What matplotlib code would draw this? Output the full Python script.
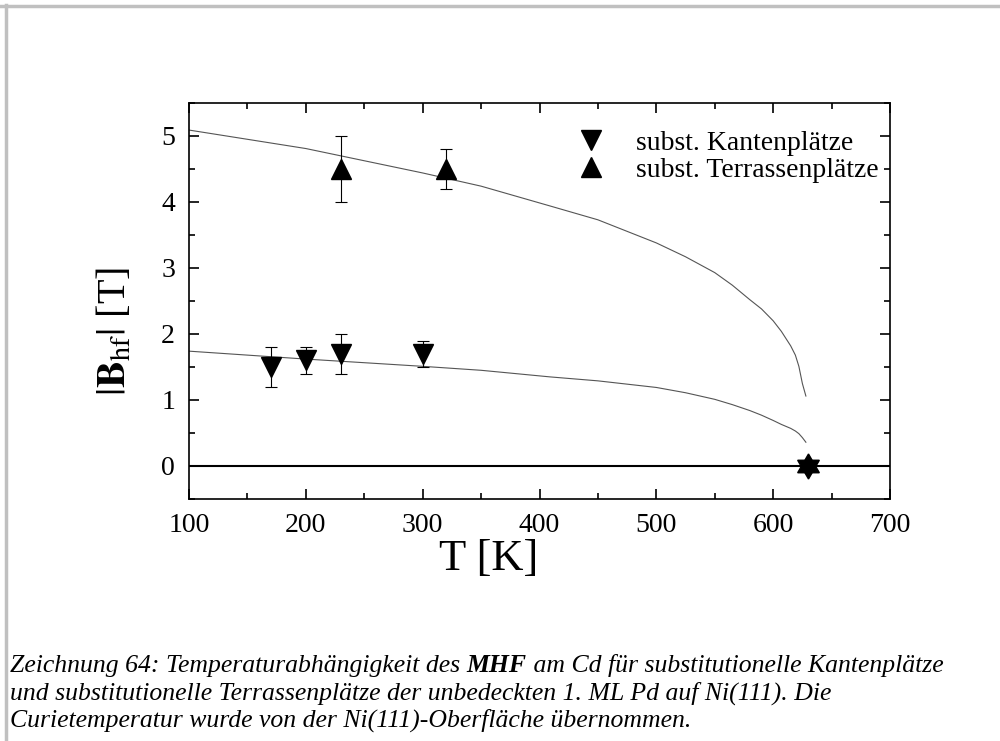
import matplotlib.pyplot as plt
from matplotlib.lines import Line2D
from matplotlib.ticker import MultipleLocator

plt.rcParams['font.family'] = 'Liberation Serif'
plt.rcParams['mathtext.fontset'] = 'stix'

# measured hyperfine fields
kanten_T = [170, 200, 230, 300]
kanten_B = [1.5, 1.6, 1.7, 1.7]
kanten_err = [0.3, 0.2, 0.3, 0.2]

terr_T = [230, 320]
terr_B = [4.5, 4.5]
terr_err = [0.5, 0.3]

# Curie point (Ni(111) surface)
curie_T = [630]
curie_B = [0.0]

# fitted curves
fit_T = [100, 200, 300, 350, 409, 450, 500, 525, 550, 565, 580, 590, 600, 607, 615, 619,
         622, 625, 628]
fit_terr = [5.09, 4.81, 4.44, 4.24, 3.94, 3.73, 3.38, 3.17, 2.93, 2.74, 2.52, 2.38, 2.20,
            2.04, 1.82, 1.68, 1.51, 1.25, 1.06]
fit_kant = [1.74, 1.62, 1.51, 1.45, 1.35, 1.29, 1.19, 1.11, 1.01, 0.93, 0.84, 0.77, 0.69,
            0.63, 0.57, 0.53, 0.49, 0.43, 0.36]

fig = plt.figure(figsize=(10, 7.41), dpi=100)
ax = fig.add_axes([0.189, 0.3266, 0.701, 0.5344])

ax.axhline(0, color='black', lw=1.5, zorder=1)
ax.plot(fit_T, fit_terr, color='#555555', lw=0.8, zorder=2)
ax.plot(fit_T, fit_kant, color='#555555', lw=0.8, zorder=2)

ax.errorbar(kanten_T, kanten_B, yerr=kanten_err, fmt='v', color='black',
            ms=15, ecolor='black', elinewidth=0.8, capsize=4.5, capthick=0.8, zorder=3)
ax.errorbar(terr_T, terr_B, yerr=terr_err, fmt='^', color='black',
            ms=15, ecolor='black', elinewidth=0.8, capsize=4.5, capthick=0.8, zorder=3)
# both site types meet at the Curie point -> drawn as a hexagram
ax.plot(curie_T, curie_B, marker=(3, 0, 0), ls='none', color='black', ms=18, zorder=4)
ax.plot(curie_T, curie_B, marker=(3, 0, 180), ls='none', color='black', ms=18, zorder=4)

ax.set_xlim(100, 700)
ax.set_ylim(-0.5, 5.5)
ax.xaxis.set_major_locator(MultipleLocator(100))
ax.xaxis.set_minor_locator(MultipleLocator(50))
ax.yaxis.set_major_locator(MultipleLocator(1))
ax.yaxis.set_minor_locator(MultipleLocator(0.5))
ax.tick_params(which='both', direction='in', top=True, right=True, width=1.2)
ax.tick_params(which='major', length=7, labelsize=20, pad=10)
ax.tick_params(which='minor', length=4.5)
for s in ax.spines.values():
    s.set_linewidth(1.2)

ax.set_xlabel('T [K]', fontsize=32)
ax.xaxis.set_label_coords(0.427, -0.1)
ax.set_ylabel(r'$|\mathbf{B}_{\mathrm{hf}}|$ [T]', fontsize=29)
ax.yaxis.set_label_coords(-0.078, 0.424)

handles = [
    Line2D([], [], marker='v', color='black', ls='none', ms=15),
    Line2D([], [], marker='^', color='black', ls='none', ms=15),
]
ax.legend(handles, ['subst. Kantenplätze', 'subst. Terrassenplätze'],
          loc='upper left', bbox_to_anchor=(0.55, 0.93), frameon=False,
          fontsize=20, handlelength=1.2, handletextpad=1.0, labelspacing=0.05,
          borderpad=0, borderaxespad=0)

# grey frame of the page
fig.add_artist(Line2D([0.0, 1.0], [1 - 6 / 741, 1 - 6 / 741], color='#c0c0c0', lw=2.5))
fig.add_artist(Line2D([6 / 1000, 6 / 1000], [0.0, 1 - 5 / 741], color='#c0c0c0', lw=2.5))

# caption, with bold MHF
cap_size = 18.5
y1 = 1 - 672 / 741
t1 = fig.text(0.010, y1, 'Zeichnung 64: Temperaturabhängigkeit des ', fontsize=cap_size,
              style='italic', va='baseline')
fig.canvas.draw()
r = fig.canvas.get_renderer()
bb = t1.get_window_extent(r)
t2 = fig.text(bb.x1 / 1000, y1, 'MHF', fontsize=cap_size, style='italic',
              weight='bold', va='baseline')
bb2 = t2.get_window_extent(r)
fig.text(bb2.x1 / 1000, y1, ' am Cd für substitutionelle Kantenplätze', fontsize=cap_size,
         style='italic', va='baseline')
fig.text(0.010, 1 - 700 / 741,
         'und substitutionelle Terrassenplätze der unbedeckten 1. ML Pd auf Ni(111). Die',
         fontsize=cap_size, style='italic', va='baseline')
fig.text(0.010, 1 - 727 / 741, 'Curietemperatur wurde von der Ni(111)-Oberfläche übernommen.',
         fontsize=cap_size, style='italic', va='baseline')

fig.savefig('out.png', dpi=100)
